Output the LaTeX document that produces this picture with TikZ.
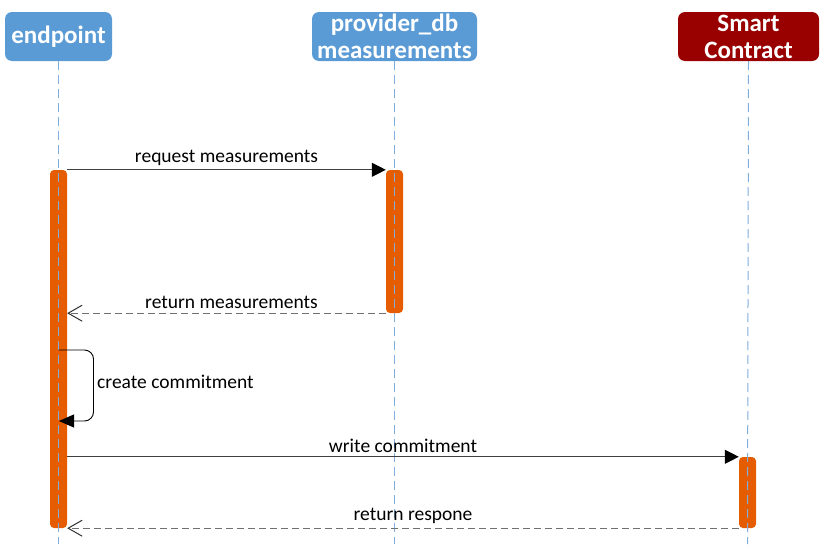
\documentclass[tikz,border=0pt]{standalone}
\usepackage{fontspec}
\setmainfont{Carlito}
\usetikzlibrary{arrows.meta,positioning,calc}
\definecolor{actorblue}{HTML}{5B9BD5}
\definecolor{actorred}{HTML}{990000}
\definecolor{barorange}{HTML}{E65C00}
\definecolor{lifeblue}{HTML}{7FAEDC}
\definecolor{callgray}{HTML}{404040}
\definecolor{replygray}{HTML}{707070}

\begin{document}
\begin{tikzpicture}[x=1pt,y=-1pt,
  actor/.style={rounded corners=7pt,text=white,font=\bfseries\fontsize{25}{27}\selectfont,align=center,inner sep=0pt,minimum height=49pt},
  lifeline/.style={draw=lifeblue,line width=1pt,dash pattern=on 9pt off 5pt},
  activation/.style={fill=barorange,rounded corners=4pt,minimum width=17pt,inner sep=0pt},
  call/.style={draw=callgray,line width=1.1pt,-{Triangle[length=14pt,width=14pt,color=black]}},
  reply/.style={draw=replygray,line width=1.3pt,dash pattern=on 7pt off 4pt,-{Straight Barb[length=14pt,width=16pt,line width=1pt,color=black!80]}},
  msg/.style={font=\fontsize{19.5}{22}\selectfont,text=black,inner sep=0pt}]
  \useasboundingbox (0,0) rectangle (820,544);
  %actors
  \node[actor,fill=actorblue,minimum width=107pt] (ep) at (58.5,36.5) {endpoint};
  \node[actor,fill=actorblue,minimum width=165pt] (pd) at (394.5,36.5) {provider\_db\\measurements};
  \node[actor,fill=actorred,minimum width=141pt] (sc) at (748.5,36.5) {Smart\\Contract};
  %activations
  \node[activation,minimum height=358pt] (epbar) at (58.5,349) {};
  \node[activation,minimum height=143pt] (pdbar) at (394.5,241.5) {};
  \node[activation,minimum height=71pt] (scbar) at (747.5,492.5) {};
  %lifelines
  \coordinate (epend) at (58.5,544);
  \coordinate (pdend) at (394.5,544);
  \coordinate (scend) at (747.5,544);
  \draw[lifeline] (ep.south) -- (epend);
  \draw[lifeline] (pd.south) -- (pdend);
  \draw[lifeline] (sc.south) -- (scend);
  %messages
  \draw[call] (epbar.north east) -- node[msg,above=4pt] (req) {request measurements} (pdbar.north west);
  \draw[reply] (pdbar.south west) -- node[msg,above=4pt,xshift=5pt] (ret) {return measurements} (epbar.east |- pdbar.south);
  \coordinate (selfout) at (58.5,350);
  \coordinate (selfin) at (59,421);
  \draw[call,draw=black,line width=0.9pt,rounded corners=9pt,-{Triangle[length=15pt,width=13pt]}] (selfout) -- ++(35,0) |- (selfin);
  \node[msg,anchor=west] (selflbl) at (97,382) {create commitment};
  \draw[call] (epbar.east |- scbar.north) -- node[msg,above=4pt] (wrt) {write commitment} (scbar.north west);
  \draw[reply] (scbar.south west) -- node[msg,above=4pt,xshift=10pt] (rsp) {return respone} (epbar.south east);
\end{tikzpicture}
\end{document}
